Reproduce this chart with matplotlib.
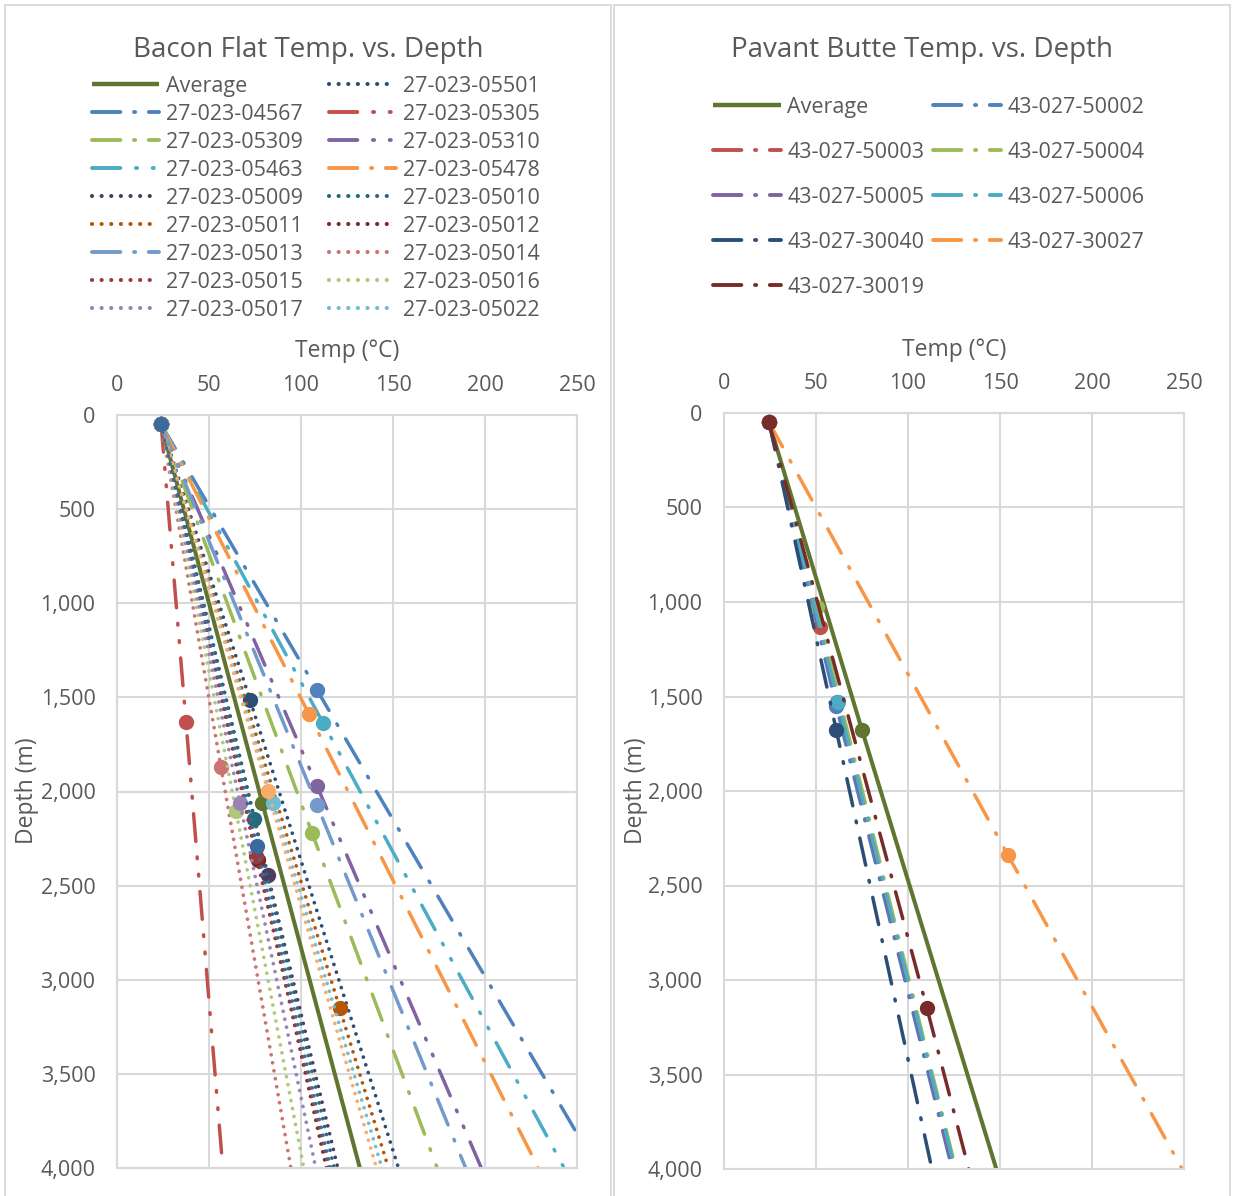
import matplotlib
matplotlib.use('Agg')
import matplotlib.pyplot as plt
from matplotlib.lines import Line2D
from matplotlib.patches import Rectangle
from matplotlib.ticker import FuncFormatter

W, H = 1233, 1196
plt.rcParams['font.family'] = ['Open Sans', 'DejaVu Sans']
TXT = '#595959'
GRID = '#D9D9D9'

# ---------------- Bacon Flat data ----------------
bf_surface_temp = 24.0
bf_surface_depth = 50
bf_end_depth = 4000
bf_names = ['Average', '27-023-05501', '27-023-04567', '27-023-05305', '27-023-05309',
            '27-023-05310', '27-023-05463', '27-023-05478', '27-023-05009', '27-023-05010',
            '27-023-05011', '27-023-05012', '27-023-05013', '27-023-05014', '27-023-05015',
            '27-023-05016', '27-023-05017', '27-023-05022', '', '']
bf_bht_temp = [79.0, 72.3, 108.7, 37.5, 106.0, 108.7, 112.0, 104.3, 82.0, 74.5,
               121.0, 76.6, 108.7, 56.5, 75.5, 64.7, 66.8, 85.0, 82.0, 76.0]
bf_bht_depth = [2061, 1514, 1461, 1631, 2220, 1971, 1636, 1588, 2444, 2146,
                3150, 2364, 2071, 1870, 2340, 2104, 2061, 2061, 1997, 2289]
bf_end_temp = [132.0, 153.0, 261.0, 57.5, 174.0, 198.0, 243.0, 229.0, 120.0, 118.0,
               147.5, 113.8, 189.5, 94.5, 115.0, 101.5, 108.0, 144.0, 141.0, 116.0]

# ---------------- Pavant Butte data ----------------
pb_surface_temp = 24.5
pb_surface_depth = 50
pb_end_depth = 4000
pb_names = ['Average', '43-027-50002', '43-027-50003', '43-027-50004', '43-027-50005',
            '43-027-50006', '43-027-30040', '43-027-30027', '43-027-30019']
pb_bht_temp = [75.0, 61.0, 52.2, 50.4, 61.5, 62.0, 61.0, 154.3, 110.2]
pb_bht_depth = [1677, 1550, 1131, 1025, 1527, 1527, 1677, 2339, 3146]
pb_end_temp = [148.0, 124.0, 125.7, 126.0, 124.5, 125.5, 113.0, 249.0, 133.0]

x_ticks = [0, 50, 100, 150, 200, 250]
y_ticks = [0, 500, 1000, 1500, 2000, 2500, 3000, 3500, 4000]

# ---------------- styles ----------------
bf_colors = ['#5F7530', '#2C4D75', '#4F81BD', '#C0504D', '#9BBB59', '#8064A2', '#4BACC6',
             '#F79646', '#4D3B62', '#276A7C', '#B65708', '#772C2A', '#729ACA', '#CD7371',
             '#9B3B39', '#AFC97A', '#9983B5', '#6FBDD1', '#F9AB6B', '#3B6A9E']
bf_kinds = ['solid', 'dot', 'ldd', 'lddd', 'ldd', 'lddd', 'lddd', 'ldd', 'dot', 'dot',
            'dot', 'dot', 'ldd', 'dot', 'dot', 'dot', 'dot', 'dot', 'dot', 'dot']
pb_colors = ['#5F7530', '#4F81BD', '#C0504D', '#9BBB59', '#8064A2', '#4BACC6',
             '#2C4D75', '#F79646', '#772C2A']
pb_kinds = ['solid'] + ['ldd'] * 8

LS = {'solid': '-', 'dot': (0, (0.01, 2.15)), 'ldd': (0, (8, 4.5, 0.5, 4.5)),
      'lddd': (0, (8, 4.5, 0.5, 4.5, 0.5, 4.5))}
LS_LEG = {'solid': '-', 'dot': (0, (0.01, 2.3)), 'ldd': (0, (7.3, 3.5, 0.3, 3.5)),
          'lddd': (0, (7.3, 4.0, 0.3, 4.0, 0.3, 4.0))}
LW = {'solid': 2.9, 'dot': 2.7, 'ldd': 2.5, 'lddd': 2.5}

fig = plt.figure(figsize=(W / 100, H / 100), dpi=100)


def fx(px):
    return px / W


def fy(py):
    return 1 - py / H


# panel borders
for (x0, x1) in [(5, 611), (614, 1230)]:
    fig.add_artist(Rectangle((fx(x0), fy(1200)), fx(x1 - x0), (1200 - 5) / H,
                             transform=fig.transFigure, fill=False, ec=GRID, lw=1.3))


def setup_axes(rect):
    ax = fig.add_axes(rect)
    ax.set_xlim(0, 250)
    ax.set_ylim(4000, 0)
    ax.set_xticks(x_ticks)
    ax.set_yticks(y_ticks)
    ax.xaxis.tick_top()
    ax.yaxis.set_major_formatter(FuncFormatter(lambda v, p: f'{int(v):,}'))
    ax.tick_params(axis='both', length=0, labelsize=15.5, labelcolor=TXT)
    ax.tick_params(axis='x', pad=14)
    ax.tick_params(axis='y', pad=15.5)
    ax.grid(True, color=GRID, lw=1.5)
    ax.set_axisbelow(True)
    for s in ax.spines.values():
        s.set_color(GRID)
        s.set_linewidth(1.5)
    return ax


def draw(ax, st, sd, ed, bt, bd, et, colors, kinds):
    for i in range(len(bt)):
        k = kinds[i]
        ax.plot([st, bt[i], et[i]], [sd, bd[i], ed], color=colors[i], ls=LS[k], lw=LW[k],
                dash_capstyle='round', solid_capstyle='butt', marker='o', ms=10,
                mec=colors[i], mfc=colors[i], markevery=[0, 1])


def legend(names, colors, kinds, rows, cols):
    idx = 0
    for i, name in enumerate(names):
        if not name:
            continue
        r, c = divmod(idx, 2)
        idx += 1
        y = rows[r]
        hx0, hx1, tx = cols[c]
        k = kinds[i]
        fig.add_artist(Line2D([fx(hx0), fx(hx1)], [fy(y), fy(y)], transform=fig.transFigure,
                              color=colors[i], ls=LS_LEG[k], lw=LW[k] + 0.3,
                              dash_capstyle='round', solid_capstyle='butt'))
        fig.text(fx(tx), fy(y), name, fontsize=15.5, color=TXT, ha='left', va='center_baseline')


# ---------------- left panel ----------------
axL = setup_axes([fx(117), fy(1168), fx(460), 753 / H])
draw(axL, bf_surface_temp, bf_surface_depth, bf_end_depth, bf_bht_temp, bf_bht_depth,
     bf_end_temp, bf_colors, bf_kinds)
fig.text(fx(308), fy(46), 'Bacon Flat Temp. vs. Depth', fontsize=20, color=TXT,
         ha='center', va='center_baseline')
fig.text(fx(347), fy(348), 'Temp (°C)', fontsize=16.5, color=TXT, ha='center',
         va='center_baseline')
fig.text(fx(27), fy(791), 'Depth (m)', fontsize=16.5, color=TXT, ha='center', va='center',
         rotation=90)
legend(bf_names, bf_colors, bf_kinds, [84 + 28 * i for i in range(9)],
       [(92, 159, 166), (329, 396, 403)])

# ---------------- right panel ----------------
axR = setup_axes([fx(724), fy(1169), fx(460), 756 / H])
draw(axR, pb_surface_temp, pb_surface_depth, pb_end_depth, pb_bht_temp, pb_bht_depth,
     pb_end_temp, pb_colors, pb_kinds)
fig.text(fx(922), fy(46), 'Pavant Butte Temp. vs. Depth', fontsize=20, color=TXT,
         ha='center', va='center_baseline')
fig.text(fx(954), fy(347), 'Temp (°C)', fontsize=16.5, color=TXT, ha='center',
         va='center_baseline')
fig.text(fx(636), fy(791), 'Depth (m)', fontsize=16.5, color=TXT, ha='center', va='center',
         rotation=90)
legend(pb_names, pb_colors, pb_kinds, [105 + 45 * i for i in range(5)],
       [(713, 781, 787), (933, 1001, 1007)])

fig.savefig('out.png', dpi=100)
